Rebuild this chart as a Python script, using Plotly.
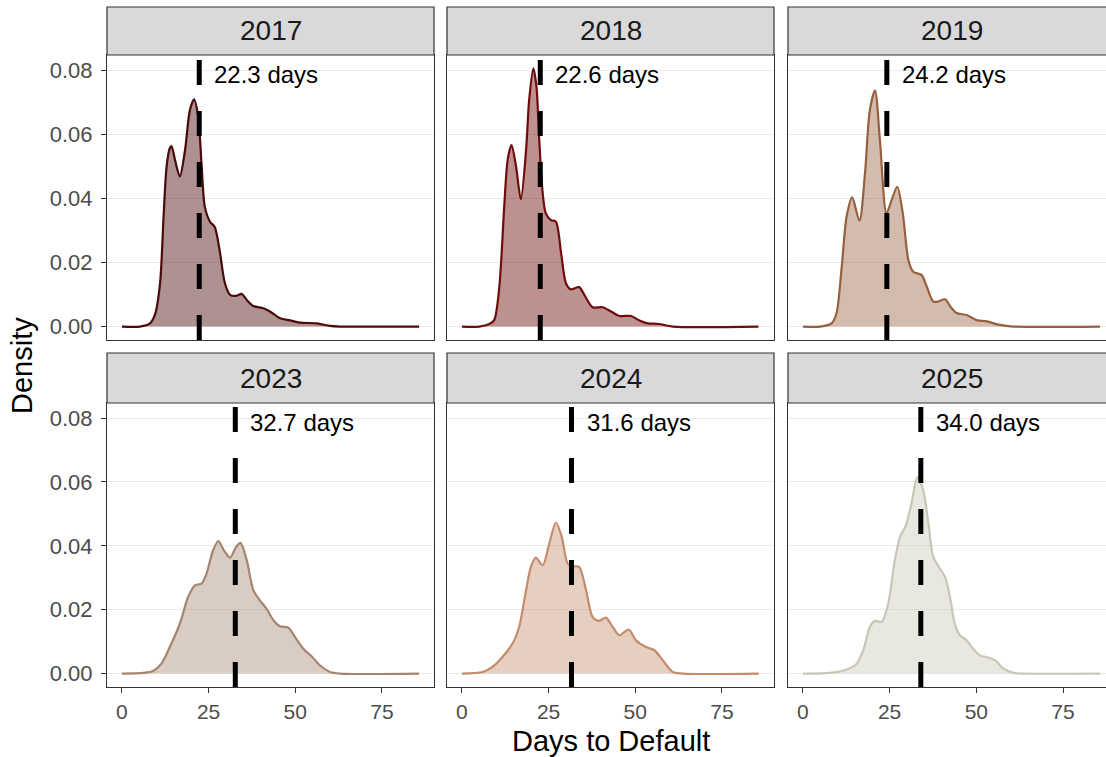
import plotly.graph_objects as go

years = ["2017", "2018", "2019", "2023", "2024", "2025"]
mean_days = [22.3, 22.6, 24.2, 32.7, 31.6, 34.0]
line_colors = ["#4b0a0a", "#6f0c0c", "#96603f", "#a5856d", "#c48c6c", "#c8c6b5"]
fill_colors = ["rgba(75,10,10,0.45)", "rgba(111,12,12,0.45)", "rgba(150,96,63,0.42)",
               "rgba(165,133,109,0.42)", "rgba(196,140,108,0.42)", "rgba(200,198,181,0.42)"]

x_2017 = [0, 5.2, 8.1, 9.5, 11, 12, 12.9, 13.8, 14.3, 15.3, 16.7, 18.2, 19.6, 20.8, 22, 23, 23.9,
          25.4, 26.8, 28.3, 29.7, 31.2, 33.1, 34.5, 36, 37.9, 40.8, 42.7, 45.6, 48.5, 51.3, 56.2,
          60, 62.9, 85.7]
d_2017 = [0, 0, 0.001, 0.0036, 0.0135, 0.034, 0.05, 0.0556, 0.0563, 0.052, 0.0468, 0.055, 0.0675,
          0.0709, 0.0655, 0.05, 0.0374, 0.0327, 0.031, 0.0229, 0.0135, 0.0099, 0.0096, 0.0102,
          0.0083, 0.0064, 0.0057, 0.0047, 0.0026, 0.0019, 0.0012, 0.001, 0.0002, 0, 0]

x_2018 = [0, 5, 7.9, 9.3, 10.8, 12.2, 13.2, 14.3, 15.6, 17, 18.5, 19.4, 20.6, 21.5, 22.3, 23.3,
          24.2, 25.7, 27.1, 28.6, 30, 31.4, 33.8, 35.3, 37.7, 40.6, 43, 45.4, 48.8, 51.2, 53.6,
          56.9, 60.8, 85.5]
d_2018 = [0, 0, 0.0008, 0.002, 0.0125, 0.0374, 0.052, 0.0566, 0.05, 0.0397, 0.055, 0.0707, 0.0805,
          0.0748, 0.0582, 0.0416, 0.0353, 0.0332, 0.0327, 0.0229, 0.0135, 0.0116, 0.0123, 0.0099,
          0.006, 0.006, 0.0047, 0.0033, 0.0033, 0.0019, 0.001, 0.0008, 0, 0]

x_2019 = [0, 5, 8.3, 9.7, 11.2, 12.6, 14.2, 16.3, 17.9, 19.3, 20.8, 22.2, 24.1, 25.6, 27.2, 28.8,
          30.4, 31.8, 34.2, 35.7, 37.6, 39, 41, 42.4, 44.3, 47.2, 50.1, 53, 56.8, 60.7, 85.7]
d_2019 = [0, 0, 0.001, 0.0042, 0.0187, 0.0343, 0.0403, 0.033, 0.0478, 0.0675, 0.0736, 0.0582,
          0.0353, 0.0395, 0.0436, 0.0353, 0.0208, 0.0171, 0.0161, 0.0125, 0.0078, 0.0078, 0.0085,
          0.0064, 0.0042, 0.0036, 0.002, 0.0016, 0.0005, 0, 0]

x_2023 = [0, 6.2, 9, 11.4, 13.8, 16.7, 19.1, 21.1, 23, 24.4, 26.3, 27.8, 29.4, 31.2, 32.9, 34.2,
          36, 37.9, 39.8, 41.7, 43.7, 45.6, 48, 49.9, 52.3, 54.7, 57.1, 60, 62.9, 85.7]
d_2023 = [0, 0.0002, 0.0008, 0.0031, 0.0083, 0.0156, 0.024, 0.0276, 0.0282, 0.0313, 0.0386, 0.0415,
          0.0386, 0.0363, 0.0396, 0.0409, 0.0355, 0.0261, 0.0229, 0.0203, 0.0167, 0.0148, 0.0144,
          0.0115, 0.0078, 0.0054, 0.0026, 0.0005, 0, 0]

x_2024 = [0, 6, 8.8, 11.7, 14.6, 16.5, 18.5, 19.9, 21.3, 23.3, 25.2, 27.1, 28.8, 30.5, 31.9, 33.8,
          35.8, 37.7, 39.6, 41.5, 43.5, 45.4, 48.1, 50.2, 53.1, 55.5, 57.9, 60.8, 63.7, 85.6]
d_2024 = [0, 0.0005, 0.0021, 0.0052, 0.0094, 0.0146, 0.0261, 0.0334, 0.0363, 0.0339, 0.0407, 0.0473,
          0.0428, 0.0344, 0.0336, 0.0334, 0.0261, 0.0177, 0.0165, 0.0175, 0.0146, 0.012, 0.0138,
          0.0104, 0.0083, 0.0073, 0.0042, 0.0005, 0, 0]

x_2025 = [0, 7.8, 12.6, 15.5, 17.4, 19.3, 20.8, 22.7, 24.6, 26.5, 28, 29.7, 31.3, 33, 34.7, 36.2,
          37.6, 39.5, 41, 42.4, 43.8, 45.3, 47.2, 49.1, 51.1, 53.5, 55.4, 57.8, 60.7, 63.6, 85.7]
d_2025 = [0, 0.0002, 0.0013, 0.0031, 0.0073, 0.0146, 0.0165, 0.0162, 0.0219, 0.0355, 0.0428, 0.0464,
          0.0532, 0.0615, 0.0574, 0.0469, 0.0365, 0.0329, 0.0302, 0.024, 0.0156, 0.012, 0.0104,
          0.0078, 0.0057, 0.005, 0.0042, 0.0016, 0.0002, 0, 0]

xs = [x_2017, x_2018, x_2019, x_2023, x_2024, x_2025]
ds = [d_2017, d_2018, d_2019, d_2023, d_2024, d_2025]

x_ticks = [0, 25, 50, 75]
y_ticks = [0.00, 0.02, 0.04, 0.06, 0.08]
y_tick_text = ["0.00", "0.02", "0.04", "0.06", "0.08"]

W, H = 1106, 757
col_px = [(107, 434), (447, 774), (788, 1106)]
row_px = [(55, 340), (403, 687)]          # panel top/bottom
strip_px = [(7, 55), (353, 403)]          # strip top/bottom
x_ranges = [[-4.3, 90.0], [-4.3, 90.0], [-4.3, 87.4]]
y_range = [-0.0042, 0.0847]

FONT = "Liberation Sans, Arial, sans-serif"
BORDER = "#333333"

fig = go.Figure()
layout = dict(
    width=W, height=H, margin=dict(l=0, r=0, t=0, b=0),
    paper_bgcolor="white", plot_bgcolor="white", showlegend=False,
    font=dict(family=FONT, color="#000000"),
)
shapes = []
annotations = []

for i, yr in enumerate(years):
    r, c = divmod(i, 3)
    n = i + 1
    xa = "xaxis" if n == 1 else f"xaxis{n}"
    ya = "yaxis" if n == 1 else f"yaxis{n}"
    xref = "x" if n == 1 else f"x{n}"
    yref = "y" if n == 1 else f"y{n}"
    x0p, x1p = col_px[c]
    tp, bp = row_px[r]
    layout[xa] = dict(
        domain=[x0p / W, x1p / W], range=x_ranges[c], anchor=yref,
        showgrid=False, zeroline=False, showline=True, mirror=True,
        linecolor=BORDER, linewidth=1.2,
        tickvals=x_ticks, ticks="outside" if r == 1 else "",
        ticklen=5, tickwidth=1.2, tickcolor=BORDER,
        showticklabels=(r == 1), ticklabelstandoff=1,
        tickfont=dict(size=21, color="#4d4d4d", family=FONT),
    )
    layout[ya] = dict(
        domain=[(H - bp) / H, (H - tp) / H], range=y_range, anchor=xref,
        showgrid=True, gridcolor="#ebebeb", gridwidth=1.4, zeroline=False,
        showline=True, mirror=(c != 2), linecolor=BORDER, linewidth=1.2,
        tickvals=y_ticks, ticktext=y_tick_text,
        ticks="outside" if c == 0 else "", ticklen=5, tickwidth=1.2, tickcolor=BORDER,
        showticklabels=(c == 0), ticklabelstandoff=4,
        tickfont=dict(size=22, color="#4d4d4d", family=FONT),
    )
    fig.add_trace(go.Scatter(
        x=xs[i], y=ds[i], mode="lines", xaxis=xref, yaxis=yref,
        line=dict(color=line_colors[i], width=2.2, shape="spline", smoothing=0.8),
        fill="tozeroy", fillcolor=fill_colors[i], hoverinfo="skip",
    ))
    # mean line (dashed)
    shapes.append(dict(
        type="line", xref=xref, yref=f"{yref} domain", x0=mean_days[i], x1=mean_days[i],
        y0=0, y1=1, line=dict(color="black", width=5, dash="25px,26px"), layer="above",
    ))
    annotations.append(dict(
        xref=xref, yref=yref, x=mean_days[i] + 3.8, y=0.0786,
        text=f"{mean_days[i]:.1f} days", showarrow=False, xanchor="left", yanchor="middle",
        font=dict(size=24, color="black", family=FONT),
    ))
    # strip
    st, sb = strip_px[r]
    shapes.append(dict(
        type="rect", xref="paper", yref="paper",
        x0=x0p / W, x1=(x1p + (10 if c == 2 else 0)) / W,
        y0=(H - sb) / H, y1=(H - st) / H,
        fillcolor="#d9d9d9", line=dict(color=BORDER, width=1.2), layer="above",
    ))
    annotations.append(dict(
        xref="paper", yref="paper", x=((x0p + x1p) / 2 if c != 2 else (x0p + 1115) / 2) / W,
        y=(H - (st + sb) / 2) / H, text=yr, showarrow=False,
        xanchor="center", yanchor="middle",
        font=dict(size=28, color="#1a1a1a", family=FONT),
    ))

annotations.append(dict(
    xref="paper", yref="paper", x=611 / W, y=(H - 741) / H, text="Days to Default",
    showarrow=False, xanchor="center", yanchor="middle",
    font=dict(size=29, color="black", family=FONT),
))
annotations.append(dict(
    xref="paper", yref="paper", x=22 / W, y=(H - 366) / H, text="Density",
    showarrow=False, xanchor="center", yanchor="middle", textangle=-90,
    font=dict(size=29, color="black", family=FONT),
))

layout["shapes"] = shapes
layout["annotations"] = annotations
fig.update_layout(**layout)
fig.write_html("out.html", config={"displayModeBar": False},
               post_script="document.body.style.margin='0';document.body.style.padding='0';")
